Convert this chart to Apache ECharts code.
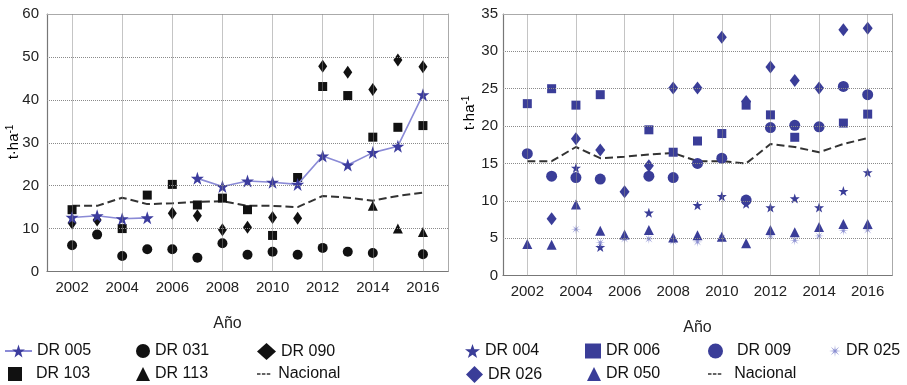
<!DOCTYPE html>
<html><head><meta charset="utf-8">
<script src="https://cdn.jsdelivr.net/npm/echarts@6/dist/echarts.min.js"></script>
<style>html,body{margin:0;padding:0;background:#fff}#c{width:907px;height:385px;background:#fff}</style>
</head><body><div id="c"></div>
<script>
// ---- data ----
const YEARS = [2002,2003,2004,2005,2006,2007,2008,2009,2010,2011,2012,2013,2014,2015,2016];
const EVEN_YEARS = [2002,2004,2006,2008,2010,2012,2014,2016];
const LEFT_TICKS = [10,20,30,40,50];
const RIGHT_TICKS = [5,10,15,20,25,30];
// left panel
const DR005 = [12.6,13.0,12.3,12.5,null,21.7,19.8,21.1,20.8,20.3,26.9,24.8,27.7,29.2,41.2];
const DR031 = [6.1,8.6,3.6,5.2,5.2,3.2,6.6,3.9,4.6,3.9,5.5,4.6,4.3,null,4.0];
const DR090 = [11.3,12.0,null,null,13.6,13.0,9.7,10.3,12.6,12.4,47.8,46.4,42.4,49.3,47.7];
const DR103 = [14.4,null,10.0,17.8,20.3,15.5,17.1,14.4,8.4,21.9,43.1,41.0,31.3,33.6,34.0];
const DR113 = [null,null,null,null,null,null,null,null,null,null,null,null,15.3,10.0,9.2];
const NACIONAL = [15.3,15.3,17.2,15.7,15.9,16.2,16.4,15.3,15.3,15.0,17.6,17.2,16.5,17.6,18.4];
// right panel
const DR004 = [null,null,14.4,3.8,null,8.4,null,9.4,10.6,9.6,9.1,10.3,9.1,11.3,13.8];
const DR006 = [23.0,25.0,22.8,24.2,null,19.5,16.5,18.0,19.0,22.8,21.5,18.5,null,20.4,21.6];
const DR009 = [16.3,13.3,13.1,12.9,null,13.3,13.1,15.0,15.7,10.1,19.8,20.1,19.9,25.3,24.2];
const DR025 = [null,null,6.2,4.4,4.9,4.9,4.6,4.5,5.0,null,5.3,4.7,5.3,6.0,6.1];
const DR026 = [null,7.6,18.3,16.8,11.2,14.7,25.1,25.1,31.9,23.3,27.9,26.1,25.1,32.9,33.1];
const DR050 = [4.2,4.1,9.5,6.0,5.5,6.1,5.1,5.4,5.2,4.3,6.1,5.8,6.5,6.9,6.9];
const X_LABEL = 'Año';
const LEFT_Y = [0, 60, 10];
const RIGHT_Y = [0, 35, 5];

// ---- styles ----
const FONT = "'Liberation Sans',Arial,sans-serif";
const BLUE = '#3a3d98';
const BLACK = '#111';
const GRIDCOL = '#8a8a8a';
const STAR = 'path://M50,2 L61.8,36.2 L97.6,36.2 L68.9,57.6 L79.4,91.9 L50,71 L20.6,91.9 L31.1,57.6 L2.4,36.2 L38.2,36.2 Z';
const DASHES = 'path://M0,9 L5,9 L5,11 L0,11 Z M7,9 L12,9 L12,11 L7,11 Z M14,9 L19,9 L19,11 L14,11 Z M0,0 L0,0.01 L0.01,0 Z M19,20 L19,19.99 L18.99,20 Z';
function asteriskPath(){
  let p = [];
  for (let k=0;k<16;k++){
    const r = k%2===0 ? 50 : 11;
    const a = Math.PI*k/8 - Math.PI/2;
    p.push((k===0?'M':'L') + (50+r*Math.cos(a)).toFixed(1) + ',' + (50+r*Math.sin(a)).toFixed(1));
  }
  return 'path://' + p.join(' ') + ' Z';
}
const AST = asteriskPath();

const pts = arr => YEARS.map((y,i)=>[y, arr[i]]);
const ptsNN = arr => YEARS.map((y,i)=>[y, arr[i]]).filter(d=>d[1]!==null);

function scatter(name, arr, gi, symbol, size, color){
  return {name, type:'scatter', xAxisIndex:gi, yAxisIndex:gi, data:ptsNN(arr), symbol, symbolSize:size,
    itemStyle:{color, opacity:1}, z:3};
}
// grid lines drawn as mark lines at the axis tick values
function gridLines(ticks){
  return {silent:true, symbol:['none','none'], animation:false, label:{show:false},
    lineStyle:{color:GRIDCOL, type:'dotted', width:1},
    emphasis:{disabled:true},
    data: EVEN_YEARS.map(v=>({xAxis:v})).concat(ticks.map(v=>({yAxis:v})))};
}
function nac(gi, ticks){
  return {name:'Nacional', type:'line', xAxisIndex:gi, yAxisIndex:gi, data:pts(NACIONAL), symbol:'none',
    lineStyle:{color:'#333', width:2, type:'dashed'}, itemStyle:{color:'#333'}, z:2,
    markLine: gridLines(ticks)};
}

const xAx = (gi, pad) => ({type:'value', gridIndex:gi, min:2001, max:2017, interval:1,
  axisLine:{show:true, onZero:false, lineStyle:{color:'#777', width:1.2}}, axisTick:{show:false},
  axisLabel:{margin:9, color:'#222', fontSize:15, fontFamily:FONT, showMinLabel:false, showMaxLabel:false,
    formatter: v => (v%2===0 ? String(v) : '')},
  splitLine:{show:false},
  name:X_LABEL, nameLocation:'middle', nameGap:44,
  nameTextStyle:{color:'#222', fontSize:16, fontFamily:FONT, padding:pad}});
const xTop = gi => ({type:'value', gridIndex:gi, min:2001, max:2017, position:'top',
  axisLine:{show:true, onZero:false, lineStyle:{color:'#aaa', width:1}}, axisTick:{show:false}, axisLabel:{show:false}, splitLine:{show:false}});
const yAx = (gi, r, margin) => ({type:'value', gridIndex:gi, min:r[0], max:r[1], interval:r[2],
  axisLine:{show:true, onZero:false, lineStyle:{color:'#777', width:1.2}}, axisTick:{show:false},
  axisLabel:{margin, color:'#222', fontSize:15, fontFamily:FONT},
  splitLine:{show:false}});
const yRight = (gi, r) => ({type:'value', gridIndex:gi, min:r[0], max:r[1], position:'right',
  axisLine:{show:true, onZero:false, lineStyle:{color:'#aaa', width:1}}, axisTick:{show:false}, axisLabel:{show:false}, splitLine:{show:false}});

const legendItems = [
  // name, left, top, w, h, padLeft
  ['DR 005', 4, 343, 27, 16, 0],
  ['DR 031', 136, 343, 14, 14, 0],
  ['DR 090', 257, 343, 19, 17, 0],
  ['DR 103', 8, 366, 14, 14, 9],
  ['DR 113', 136, 366, 14, 14, 0],
  ['Nacional', 257, 366, 19, 14, 0],
  ['DR 004', 465, 343, 15, 15, 0],
  ['DR 006', 585, 343, 16, 15, 0],
  ['DR 009', 708, 343, 15, 15, 9],
  ['DR 025', 829, 343, 12, 12, 0],
  ['DR 026', 466, 366, 17, 17, 0],
  ['DR 050', 587, 366, 14, 14, 0],
  ['Nacional', 708, 366, 19, 14, 5]
];
const legends = legendItems.map(([name,l,t,w,h,p]) => ({
  data:[name === 'Nacional' ? {name, icon:DASHES} : name], left:l, top:t, itemWidth:w, itemHeight:h, selectedMode:false, padding:0,
  textStyle:{fontSize:16, fontFamily:FONT, color:'#111', padding:[0,0,0,p]}
}));

const supRich = {a:{fontSize:15, fontFamily:FONT, color:'#222'}, b:{fontSize:10, fontFamily:FONT, color:'#222', verticalAlign:'top', padding:[0,0,8,0]}};

const option = {
  animation:false,
  grid:[
    {left:47, right:459, top:14, bottom:113.5},
    {left:503, right:15, top:14, bottom:109.5}
  ],
  xAxis:[xAx(0,[0,40,0,0]), xAx(1,[0,0,0,0]), xTop(0), xTop(1)],
  yAxis:[yAx(0, LEFT_Y, 8), yAx(1, RIGHT_Y, 5), yRight(0, LEFT_Y), yRight(1, RIGHT_Y)],
  legend: legends,
  graphic:[
    {type:'text', x:14, y:142, rotation:Math.PI/2, style:{text:'{a|t·ha}{b|-1}', rich:supRich, align:'center', verticalAlign:'middle'}},
    {type:'text', x:470, y:113, rotation:Math.PI/2, style:{text:'{a|t·ha}{b|-1}', rich:supRich, align:'center', verticalAlign:'middle'}}
  ],
  series:[
    {name:'DR 005', type:'line', xAxisIndex:0, yAxisIndex:0, data:pts(DR005), connectNulls:false,
      symbol:STAR, symbolSize:13, showSymbol:true,
      lineStyle:{color:'#8a8ad6', width:1.6}, itemStyle:{color:'#3c3c9e'}, z:4},
    scatter('DR 031', DR031, 0, 'circle', 10, BLACK),
    scatter('DR 090', DR090, 0, 'diamond', [9,13], BLACK),
    scatter('DR 103', DR103, 0, 'rect', 9, BLACK),
    scatter('DR 113', DR113, 0, 'triangle', 10, BLACK),
    nac(0, LEFT_TICKS),
    scatter('DR 004', DR004, 1, STAR, 10, BLUE),
    scatter('DR 006', DR006, 1, 'rect', 9, BLUE),
    scatter('DR 009', DR009, 1, 'circle', 11, BLUE),
    scatter('DR 025', DR025, 1, AST, 10, '#8c90d2'),
    scatter('DR 026', DR026, 1, 'diamond', [10,13], BLUE),
    scatter('DR 050', DR050, 1, 'triangle', 10, BLUE),
    nac(1, RIGHT_TICKS)
  ]
};
const chart = echarts.init(document.getElementById('c'));
chart.setOption(option);
</script></body></html>
